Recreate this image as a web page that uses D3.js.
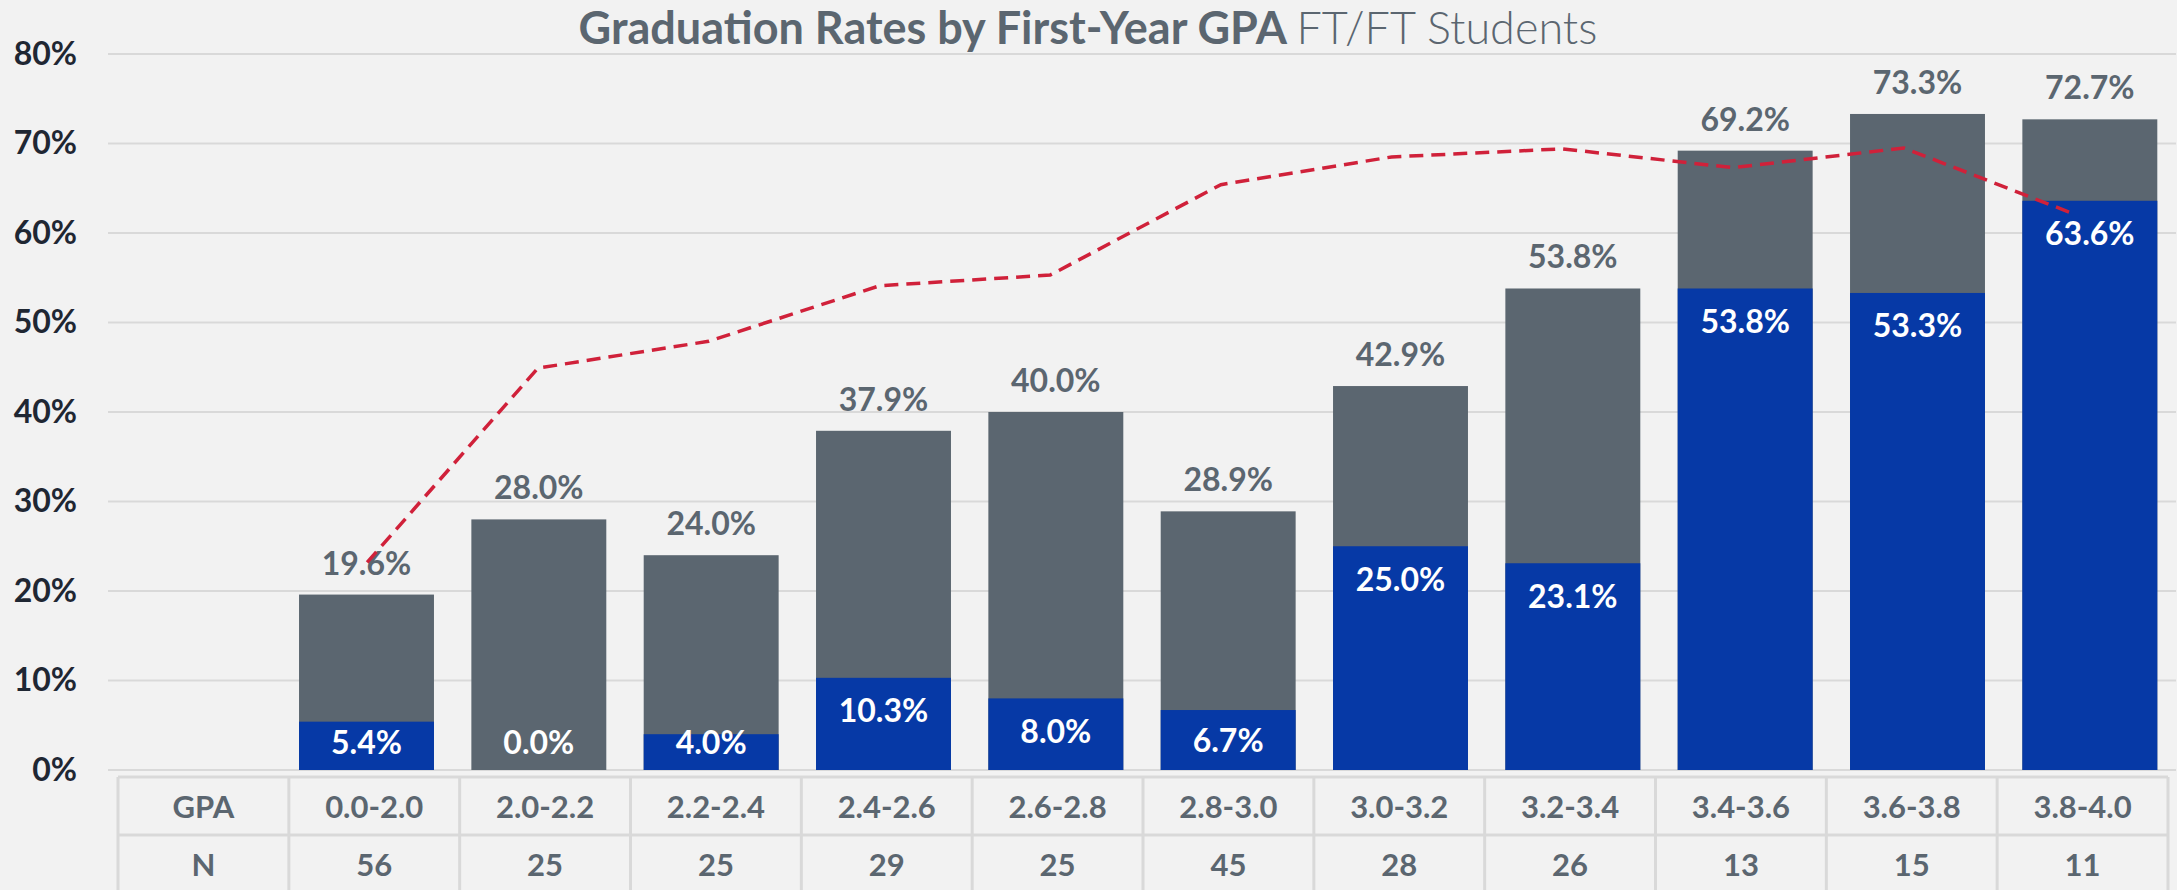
<!DOCTYPE html>
<html>
<head>
<meta charset="utf-8">
<script src="https://cdn.jsdelivr.net/npm/d3@7"></script>
<style>
  html, body { margin: 0; padding: 0; background: #f2f2f2; }
  svg { display: block; font-family: Lato, 'Noto Sans', sans-serif; }
</style>
</head>
<body>
<div class="container"></div>
<script>
const gpaBands = ['0.0-2.0', '2.0-2.2', '2.2-2.4', '2.4-2.6', '2.6-2.8', '2.8-3.0', '3.0-3.2', '3.2-3.4', '3.4-3.6', '3.6-3.8', '3.8-4.0'];
const counts = [56, 25, 25, 29, 25, 45, 28, 26, 13, 15, 11];
const sixYearRate = [19.6, 28.0, 24.0, 37.9, 40.0, 28.9, 42.9, 53.8, 69.2, 73.3, 72.7];
const fourYearRate = [5.4, 0.0, 4.0, 10.3, 8.0, 6.7, 25.0, 23.1, 53.8, 53.3, 63.6];
const trendRate = [23.2, 44.9, 47.9, 54.1, 55.3, 65.4, 68.5, 69.4, 67.3, 69.5, 62.1];
const yTicks = [0, 10, 20, 30, 40, 50, 60, 70, 80];

const w = 2177;
const h = 890;
const grey = '#5b6670';
const blue = '#0639a6';
const gridColor = '#d9d9d9';

// first slot is the table's header column, no bar there
const slots = ['header'].concat(gpaBands);

const rows = gpaBands.map((g, i) => ({
  gpa: g,
  n: counts[i],
  total: sixYearRate[i],
  inner: fourYearRate[i],
  trend: trendRate[i]
}));

const svg = d3
  .select('.container')
  .append('svg')
  .attr('width', w)
  .attr('height', h)
  .attr('viewBox', `0 0 ${w} ${h}`);

svg.append('rect').attr('width', w).attr('height', h).attr('fill', '#f2f2f2');

const xScale = d3
  .scaleBand()
  .domain(slots)
  .range([108, 2176])
  .paddingInner(0.217)
  .paddingOuter(0.1085);

const lineX = d3.scaleBand().domain(slots).range([111, 2160]);
const tableX = d3.scaleBand().domain(slots).range([118, 2168]);

const yScale = d3.scaleLinear().domain([0, 80]).range([770, 54]);

// gridlines
svg
  .append('g')
  .selectAll('line')
  .data(yTicks)
  .enter()
  .append('line')
  .attr('x1', 108)
  .attr('x2', 2176)
  .attr('y1', (d) => yScale(d))
  .attr('y2', (d) => yScale(d))
  .attr('stroke', gridColor)
  .attr('stroke-width', 2);

const yAxis = d3
  .axisLeft(yScale)
  .tickValues(yTicks)
  .tickSize(0)
  .tickPadding(0)
  .tickFormat((d) => d + '%');

svg
  .append('g')
  .attr('id', 'y-axis')
  .attr('transform', 'translate(77,0)')
  .call(yAxis)
  .call((g) => g.select('.domain').remove())
  .selectAll('text')
  .style('font-family', 'Lato, sans-serif')
  .style('font-size', '32px')
  .style('font-weight', '700')
  .attr('fill', '#1f2733');

// title
const title = svg
  .append('text')
  .attr('x', 1088)
  .attr('y', 44)
  .attr('text-anchor', 'middle')
  .style('font-size', '45px')
  .attr('fill', grey);
title.append('tspan').style('font-weight', '700').text('Graduation Rates by First-Year GPA ');
title.append('tspan').style('font-weight', '300').text('FT/FT Students');

// bars
svg
  .append('g')
  .selectAll('rect')
  .data(rows)
  .enter()
  .append('rect')
  .attr('x', (d) => xScale(d.gpa))
  .attr('y', (d) => yScale(d.total))
  .attr('width', xScale.bandwidth())
  .attr('height', (d) => yScale(0) - yScale(d.total))
  .attr('fill', grey);

svg
  .append('g')
  .selectAll('rect')
  .data(rows)
  .enter()
  .append('rect')
  .attr('x', (d) => xScale(d.gpa))
  .attr('y', (d) => yScale(d.inner))
  .attr('width', xScale.bandwidth())
  .attr('height', (d) => yScale(0) - yScale(d.inner))
  .attr('fill', blue);

const cx = (d) => xScale(d.gpa) + xScale.bandwidth() / 2;

svg
  .append('g')
  .selectAll('text')
  .data(rows)
  .enter()
  .append('text')
  .attr('x', cx)
  .attr('y', (d) => yScale(d.total) - 20)
  .attr('text-anchor', 'middle')
  .style('font-size', '32px')
  .style('font-weight', '700')
  .attr('fill', grey)
  .text((d) => d.total.toFixed(1) + '%');

svg
  .append('g')
  .selectAll('text')
  .data(rows)
  .enter()
  .append('text')
  .attr('x', cx)
  .attr('y', (d) => {
    const top = yScale(d.inner);
    const hh = yScale(0) - top;
    return hh >= 66 ? top + 33 : Math.min(top + hh / 2, yScale(0) - 28);
  })
  .attr('dy', '0.36em')
  .attr('text-anchor', 'middle')
  .style('font-size', '32px')
  .style('font-weight', '700')
  .attr('fill', '#ffffff')
  .text((d) => d.inner.toFixed(1) + '%');

// dashed trend line
const line = d3
  .line()
  .x((d) => lineX(d.gpa) + lineX.bandwidth() / 2)
  .y((d) => yScale(d.trend));

svg
  .append('path')
  .datum(rows)
  .attr('d', line)
  .attr('fill', 'none')
  .attr('stroke', '#d0213a')
  .attr('stroke-width', 3.5)
  .attr('stroke-dasharray', '14,8');

// data table under the axis
const tableTop = 777;
const rowH = 58;
const table = svg.append('g').attr('class', 'table');

table
  .selectAll('line.col')
  .data(slots.concat(['end']))
  .enter()
  .append('line')
  .attr('class', 'col')
  .attr('x1', (d) => (d === 'end' ? tableX.range()[1] : tableX(d)))
  .attr('x2', (d) => (d === 'end' ? tableX.range()[1] : tableX(d)))
  .attr('y1', tableTop)
  .attr('y2', h + 5)
  .attr('stroke', gridColor)
  .attr('stroke-width', 3);

table
  .selectAll('line.row')
  .data([tableTop, tableTop + rowH])
  .enter()
  .append('line')
  .attr('class', 'row')
  .attr('x1', tableX.range()[0])
  .attr('x2', tableX.range()[1])
  .attr('y1', (d) => d)
  .attr('y2', (d) => d)
  .attr('stroke', gridColor)
  .attr('stroke-width', 3);

const cellText = (label, values, rowIndex) => {
  const cells = [label].concat(values);
  table
    .append('g')
    .selectAll('text')
    .data(cells)
    .enter()
    .append('text')
    .attr('x', (d, i) => tableX(slots[i]) + tableX.bandwidth() / 2)
    .attr('y', tableTop + rowH * rowIndex + rowH / 2 + 1)
    .attr('dy', '0.36em')
    .attr('text-anchor', 'middle')
    .style('font-size', '31px')
    .style('font-weight', '700')
    .attr('fill', grey)
    .text((d) => d);
};

cellText('GPA', gpaBands, 0);
cellText('N', counts, 1);
</script>
</body>
</html>
